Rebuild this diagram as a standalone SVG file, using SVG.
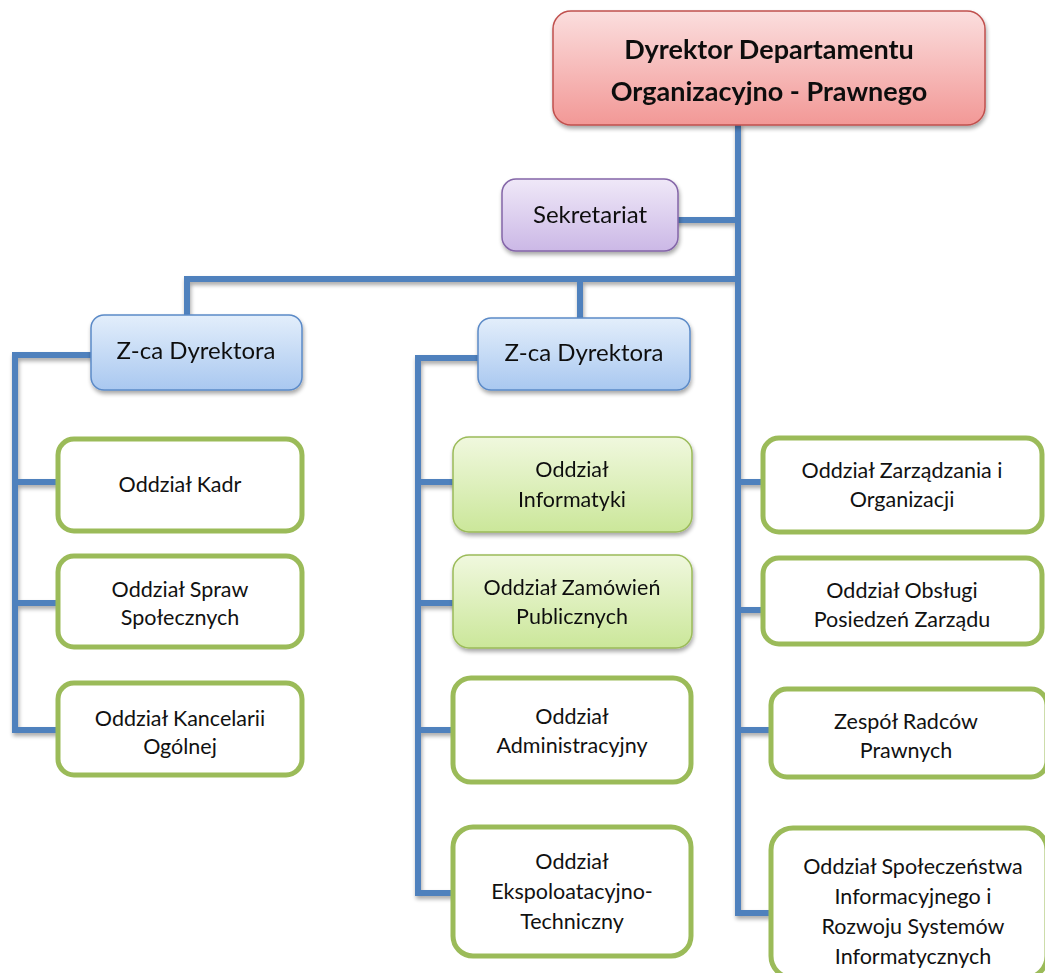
<svg xmlns="http://www.w3.org/2000/svg" width="1045" height="973" viewBox="0 0 1045 973">
  <defs>
    <linearGradient id="gRed" x1="0" y1="0" x2="0" y2="1">
      <stop offset="0" stop-color="#fbdede"/>
      <stop offset="1" stop-color="#f29896"/>
    </linearGradient>
    <linearGradient id="gPurple" x1="0" y1="0" x2="0" y2="1">
      <stop offset="0" stop-color="#efe8f8"/>
      <stop offset="1" stop-color="#cbb8e6"/>
    </linearGradient>
    <linearGradient id="gBlue" x1="0" y1="0" x2="0" y2="1">
      <stop offset="0" stop-color="#e3eefb"/>
      <stop offset="1" stop-color="#a9c8f0"/>
    </linearGradient>
    <linearGradient id="gGreen" x1="0" y1="0" x2="0" y2="1">
      <stop offset="0" stop-color="#f0f8de"/>
      <stop offset="1" stop-color="#cbe79a"/>
    </linearGradient>
    <filter id="shadow" x="-10%" y="-10%" width="130%" height="140%">
      <feGaussianBlur in="SourceAlpha" stdDeviation="2"/>
      <feOffset dx="1" dy="3" result="b"/>
      <feComponentTransfer><feFuncA type="linear" slope="0.35"/></feComponentTransfer>
      <feMerge><feMergeNode/><feMergeNode in="SourceGraphic"/></feMerge>
    </filter>
  </defs>
  <style>
    .line { fill: none; stroke: #4f81bd; stroke-width: 6; stroke-linejoin: miter; stroke-linecap: square; }
    .box { stroke-width: 5; }
    .plain { fill: #ffffff; stroke: #9bbb59; }
    .greenf { fill: url(#gGreen); stroke: #9bbb59; stroke-width: 1.5; }
    .blue { fill: url(#gBlue); stroke: #5b8ac7; stroke-width: 1.5; }
    .purple { fill: url(#gPurple); stroke: #8466a8; stroke-width: 1.5; }
    .red { fill: url(#gRed); stroke: #c0504d; stroke-width: 1.5; }
    text { font-family: Lato, "Liberation Sans", sans-serif; fill: #111111; text-anchor: middle; }
    .t { font-size: 21.5px; }
    .tm { font-size: 24px; }
    .tb { font-size: 27px; font-weight: bold; }
  </style>

  <rect width="1045" height="973" fill="#ffffff"/>

  <!-- connectors -->
  <g id="connectors" filter="url(#shadow)">
    <!-- trunk and right column -->
    <path class="line" d="M738,126 V913 H770"/>
    <path class="line" d="M678,220 H738"/>
    <path class="line" d="M738,482 H762"/>
    <path class="line" d="M738,610 H762"/>
    <path class="line" d="M738,730 H770"/>
    <!-- deputies bar -->
    <path class="line" d="M187,314 V279 H738"/>
    <path class="line" d="M580,279 V318"/>
    <!-- left column -->
    <path class="line" d="M91,355 H15 V730 H57"/>
    <path class="line" d="M15,482 H57"/>
    <path class="line" d="M15,603 H57"/>
    <!-- middle column -->
    <path class="line" d="M478,358 H418 V893 H452"/>
    <path class="line" d="M418,482 H453"/>
    <path class="line" d="M418,603 H453"/>
    <path class="line" d="M418,730 H452"/>
  </g>

  <!-- director -->
  <g id="dyrektor" filter="url(#shadow)">
    <rect class="red" x="553" y="11" width="432" height="114" rx="18"/>
    <text class="tb" x="769" y="59">Dyrektor Departamentu</text>
    <text class="tb" x="769" y="101">Organizacyjno - Prawnego</text>
  </g>

  <g id="sekretariat" filter="url(#shadow)">
    <rect class="purple" x="502" y="179" width="176" height="72" rx="14"/>
    <text class="tm" x="590" y="223">Sekretariat</text>
  </g>

  <g id="zca1" filter="url(#shadow)">
    <rect class="blue" x="91" y="315" width="211" height="75" rx="13"/>
    <text class="tm" x="196" y="359">Z-ca Dyrektora</text>
  </g>

  <g id="zca2" filter="url(#shadow)">
    <rect class="blue" x="478" y="318" width="212" height="72" rx="13"/>
    <text class="tm" x="584" y="361">Z-ca Dyrektora</text>
  </g>

  <!-- left column -->
  <g id="kadr">
    <rect class="box plain" x="58" y="439" width="244" height="92" rx="16"/>
    <text class="t" x="180" y="492">Oddział Kadr</text>
  </g>
  <g id="sprawy">
    <rect class="box plain" x="58" y="556" width="244" height="91" rx="16"/>
    <text class="t" x="180" y="597">Oddział Spraw</text>
    <text class="t" x="180" y="625">Społecznych</text>
  </g>
  <g id="kancelaria">
    <rect class="box plain" x="58" y="683" width="244" height="92" rx="16"/>
    <text class="t" x="180" y="726">Oddział Kancelarii</text>
    <text class="t" x="180" y="754">Ogólnej</text>
  </g>

  <!-- middle column -->
  <g id="informatyka" filter="url(#shadow)">
    <rect class="greenf" x="453" y="437" width="239" height="95" rx="16"/>
    <text class="t" x="572" y="477">Oddział</text>
    <text class="t" x="572" y="507">Informatyki</text>
  </g>
  <g id="zamowienia" filter="url(#shadow)">
    <rect class="greenf" x="453" y="555" width="239" height="93" rx="16"/>
    <text class="t" x="572" y="595">Oddział Zamówień</text>
    <text class="t" x="572" y="624">Publicznych</text>
  </g>
  <g id="administracja">
    <rect class="box plain" x="453" y="678" width="238" height="104" rx="18"/>
    <text class="t" x="572" y="724">Oddział</text>
    <text class="t" x="572" y="753">Administracyjny</text>
  </g>
  <g id="eksploatacja">
    <rect class="box plain" x="453" y="827" width="238" height="129" rx="20"/>
    <text class="t" x="572" y="869">Oddział</text>
    <text class="t" x="572" y="899">Ekspoloatacyjno-</text>
    <text class="t" x="572" y="929">Techniczny</text>
  </g>

  <!-- right column -->
  <g id="zarzadzanie">
    <rect class="box plain" x="763" y="438" width="279" height="94" rx="16"/>
    <text class="t" x="902" y="478">Oddział Zarządzania i</text>
    <text class="t" x="902" y="507">Organizacji</text>
  </g>
  <g id="obsluga">
    <rect class="box plain" x="763" y="558" width="279" height="86" rx="16"/>
    <text class="t" x="902" y="598">Oddział Obsługi</text>
    <text class="t" x="902" y="627">Posiedzeń Zarządu</text>
  </g>
  <g id="radcy">
    <rect class="box plain" x="771" y="689" width="276" height="88" rx="16"/>
    <text class="t" x="906" y="729">Zespół Radców</text>
    <text class="t" x="906" y="758">Prawnych</text>
  </g>
  <g id="spoleczenstwo">
    <rect class="box plain" x="771" y="828" width="276" height="150" rx="22"/>
    <text class="t" x="913" y="874">Oddział Społeczeństwa</text>
    <text class="t" x="913" y="904">Informacyjnego i</text>
    <text class="t" x="913" y="934">Rozwoju Systemów</text>
    <text class="t" x="913" y="964">Informatycznych</text>
  </g>
</svg>
